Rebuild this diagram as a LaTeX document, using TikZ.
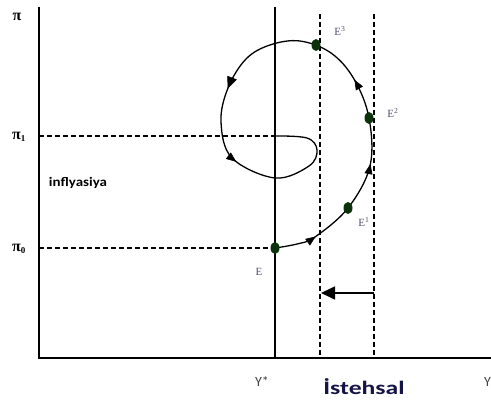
\documentclass[tikz,border=0pt]{standalone}
\usepackage{fontspec}
\newfontfamily\carl{Carlito}
\newfontfamily\tms{Liberation Serif}
\usetikzlibrary{arrows.meta,decorations.markings,shapes.geometric}
\definecolor{dotgreen}{RGB}{12,50,12}
\definecolor{navy}{RGB}{20,20,70}
\definecolor{lblgray}{RGB}{80,80,110}
\begin{document}
\begin{tikzpicture}[x=1pt,y=-1pt,
  axis/.style={line width=2.4pt},
  vline/.style={line width=1.8pt},
  dline/.style={line width=1.6pt,dash pattern=on 5pt off 3pt},
  eqdot/.style={ellipse,fill=dotgreen,minimum width=9pt,minimum height=12pt,inner sep=0pt},
  elabel/.style={font=\tms\fontsize{11}{13}\selectfont,text=lblgray,inner sep=0pt},
  pilabel/.style={font=\tms\bfseries\fontsize{16}{18}\selectfont,inner sep=0pt},
  ylabel/.style={font=\carl\fontsize{14}{16}\selectfont,text=black!75,inner sep=0pt},
]
\useasboundingbox (0,0) rectangle (491,404);
% coordinates
\coordinate (O) at (39,358);
\coordinate (Ytop) at (39,7);
\coordinate (Xend) at (495,358);
\coordinate (Ystar) at (275,358);
\coordinate (Ystartop) at (275,7);
\coordinate (D1top) at (320,14);
\coordinate (D1bot) at (320,357);
\coordinate (D2top) at (374,14);
\coordinate (D2bot) at (374,357);
\coordinate (P1a) at (39,136);
\coordinate (P1b) at (275,136);
\coordinate (P0a) at (39,248);
\coordinate (P0b) at (275,248);
\coordinate (ArS) at (374,293);
\coordinate (ArE) at (321,293);
% axes
\draw[axis] (Ytop) -- (O) -- (Xend);
\draw[vline] (Ystartop) -- (Ystar);
\draw[dline] (D1top) -- (D1bot);
\draw[dline] (D2top) -- (D2bot);
\draw[dline] (P1a) -- (P1b);
\draw[dline] (P0a) -- (P0b);
% spiral path
\draw[line width=1.3pt,
  postaction={decorate},
  decoration={markings,
    mark=at position 0.070 with {\arrow[line width=0.6pt]{Triangle[length=10pt,width=8pt]}},
    mark=at position 0.222 with {\arrow[line width=0.6pt]{Triangle[length=10pt,width=8pt]}},
    mark=at position 0.365 with {\arrow[line width=0.6pt]{Triangle[length=10pt,width=8pt]}},
    mark=at position 0.632 with {\arrow[line width=0.6pt]{Triangle[length=12pt,width=10pt]}},
    mark=at position 0.760 with {\arrow[line width=0.6pt]{Triangle[length=10pt,width=8pt]}}}]
  plot[smooth,tension=0.6] coordinates {
   (275,248) (297,244) (315,237) (348,208) (370,166) (369,118) (354,79)
   (331,53) (300,41) (270,45) (246,59) (228,88) (221,122) (232,158) (275,178)
   (309,166) (317,150) (307,138) (275,136)};
% horizontal shift arrow
\draw[line width=1.5pt,-{Triangle[length=14pt,width=13pt]}] (ArS) -- (ArE);
% equilibrium dots
\node[eqdot] (E) at (275,248) {};
\node[eqdot] (E1) at (348,208) {};
\node[eqdot] (E2) at (369,118) {};
\node[eqdot] (E3) at (316,45) {};
% labels
\node[elabel] (lE) at (259,272) {E};
\node[elabel] (lE1) at (364,222) {E\textsuperscript{1}};
\node[elabel] (lE2) at (393,113) {E\textsuperscript{2}};
\node[elabel] (lE3) at (340,31) {E\textsuperscript{3}};
\node[pilabel] (pi) at (17,17) {π};
\node[pilabel] (pi1) at (19,137) {π\textsubscript{\fontsize{9}{10}\selectfont 1}};
\node[pilabel] (pi0) at (19,249) {π\textsubscript{\fontsize{9}{10}\selectfont 0}};
\node[font=\carl\bfseries\fontsize{13}{15}\selectfont,inner sep=0pt] (infl) at (78,183) {\scalebox{1.15}[1]{inflyasiya}};
\node[ylabel] (lYs) at (262,382) {Y*};
\node[ylabel,anchor=west] (lY) at (484,382) {Y};
\node[font=\carl\bfseries\fontsize{19}{21}\selectfont,text=navy,inner sep=0pt] (ist) at (364,387) {\scalebox{1.35}[1]{İstehsal}};
\end{tikzpicture}
\end{document}
